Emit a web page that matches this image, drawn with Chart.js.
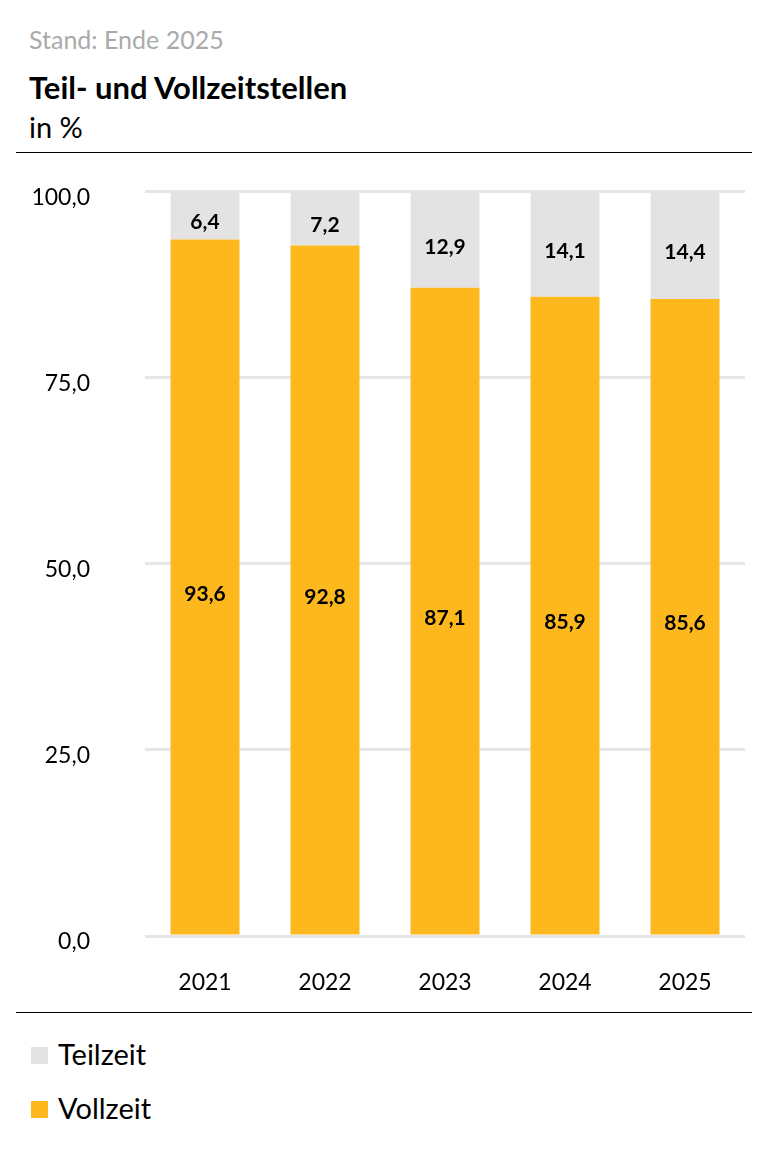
<!DOCTYPE html>
<html>
<head>
<meta charset="utf-8">
<script src="https://cdn.jsdelivr.net/npm/chart.js@4"></script>
<style>
  body { margin: 0; background: #fff; font-family: Lato, "Open Sans", sans-serif; }
  #page { position: relative; width: 764px; height: 1155px; }
  .sub { position: absolute; left: 29px; top: 24px; font-size: 25px; color: #aaaaaa; }
  .title { position: absolute; left: 29px; top: 68px; font-size: 31px; font-weight: bold; color: #000; }
  .unit { position: absolute; left: 29px; top: 109px; font-size: 29px; color: #000; }
  .rule { position: absolute; left: 16px; width: 736px; height: 1px; background: #000; }
  #wrap { position: absolute; left: 0; top: 123px; width: 764px; height: 887px; }
  .leg { position: absolute; left: 31px; font-size: 29px; color: #000; }
  .leg span { display: inline-block; width: 17px; height: 17px; margin-right: 10px; vertical-align: 1px; }
</style>
</head>
<body>
<div id="page">
  <div class="sub">Stand: Ende 2025</div>
  <div class="title">Teil- und Vollzeitstellen</div>
  <div class="unit">in %</div>
  <div class="rule" style="top:152px"></div>
  <div id="wrap"><canvas id="chart"></canvas></div>
  <div class="rule" style="top:1012px"></div>
  <div class="leg" style="top:1036px"><span style="background:#e3e3e3"></span>Teilzeit</div>
  <div class="leg" style="top:1090px"><span style="background:#fdb81e"></span>Vollzeit</div>
</div>
<script>
const years = ['2021', '2022', '2023', '2024', '2025'];
const vollzeit = [93.6, 92.8, 87.1, 85.9, 85.6];
const teilzeit = [6.4, 7.2, 12.9, 14.1, 14.4];
const yTicks = [0, 25, 50, 75, 100];

const fmt = v => v.toFixed(1).replace('.', ',');

// writes the values into the middle of each bar segment
const valueLabels = {
    id: 'valueLabels',
    afterDatasetsDraw(chart) {
        const ctx = chart.ctx;
        ctx.save();
        ctx.font = 'bold 21px Lato, "Open Sans", sans-serif';
        ctx.fillStyle = '#000';
        ctx.textAlign = 'center';
        ctx.textBaseline = 'middle';
        chart.data.datasets.forEach((ds, i) => {
            chart.getDatasetMeta(i).data.forEach((bar, j) => {
                const mid = (bar.y + bar.base) / 2;
                ctx.fillText(fmt(ds.data[j]), bar.x, mid + 7);
            });
        });
        ctx.restore();
    }
};

new Chart(document.getElementById('chart'), {
    type: 'bar',
    data: {
        labels: years,
        datasets: [
            { label: 'Vollzeit', data: vollzeit, backgroundColor: '#fdb81e' },
            { label: 'Teilzeit', data: teilzeit, backgroundColor: '#e3e3e3' }
        ]
    },
    options: {
        responsive: true,
        maintainAspectRatio: false,
        animation: false,
        events: [],
        layout: { padding: { top: 20, right: 19, left: 0, bottom: 0 } },
        datasets: { bar: { barPercentage: 0.575, categoryPercentage: 1 } },
        plugins: { legend: { display: false }, tooltip: { enabled: false } },
        scales: {
            x: {
                stacked: true,
                grid: { display: false },
                border: { display: false },
                ticks: { color: '#000', font: { size: 23, family: 'Lato' }, padding: 25 },
                afterFit(axis) { axis.height = 74; }
            },
            y: {
                stacked: true,
                min: 0,
                max: 100,
                afterBuildTicks(axis) { axis.ticks = yTicks.map(v => ({ value: v })); },
                grid: { color: '#e6e6e6', lineWidth: 3, drawTicks: false },
                border: { display: false },
                ticks: {
                    color: '#000',
                    font: { size: 23, family: 'Lato' },
                    padding: 55,
                    labelOffset: 6,
                    callback: v => fmt(v)
                },
                afterFit(axis) { axis.width = 145; }
            }
        }
    },
    plugins: [valueLabels]
});
</script>
</body>
</html>
